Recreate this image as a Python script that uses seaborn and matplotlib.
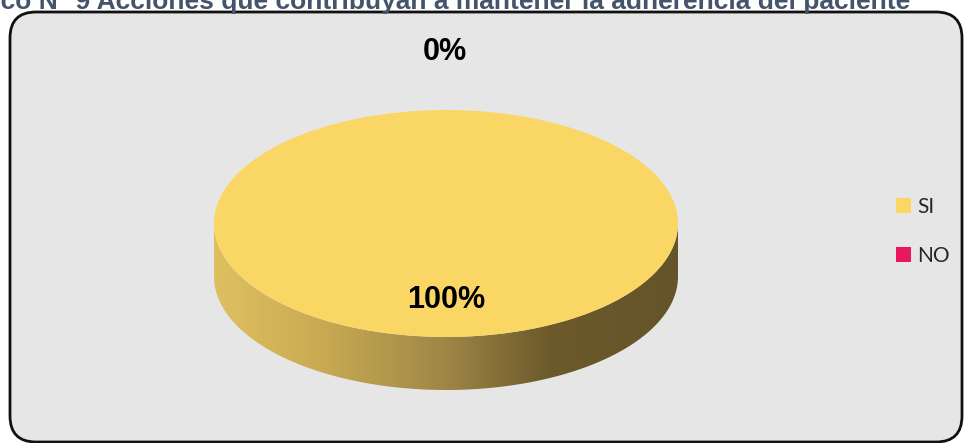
import numpy as np
import matplotlib
matplotlib.use("Agg")
import matplotlib.pyplot as plt
import seaborn as sns
from matplotlib.patches import FancyBboxPatch, Patch, Polygon
from matplotlib.colors import LinearSegmentedColormap

# Data
categories = ["SI", "NO"]
values = [100, 0]
slice_colors = ["#FAD765", "#E8185C"]
title = "Gráfico N° 9 Acciones que contribuyan a mantener la adherencia del paciente"

sns.set_theme(style="white")
plt.rcParams["font.family"] = ["Liberation Sans", "DejaVu Sans"]

W, H = 964, 443
fig = plt.figure(figsize=(W / 100, H / 100), dpi=100)
fig.patch.set_facecolor("white")

# Canvas axes in pixel units for the frame and title
bg = fig.add_axes([0, 0, 1, 1])
bg.set_xlim(0, W)
bg.set_ylim(H, 0)
bg.axis("off")
bg.add_patch(FancyBboxPatch((10, 12), 952, 430,
                            boxstyle="round,pad=0,rounding_size=26",
                            fc="#E6E6E6", ec="#111111", lw=2))
bg.text(910, 9, title, ha="right", va="baseline", fontsize=19,
        fontweight="bold", color="#44546A")

# Tilted pie: circle in data units stretched into an ellipse by the axes box
cx, cy, rx, ry, depth = 446, 223.5, 232, 113.5, 53
d = depth / ry
xlo, xhi = -1.05, 1.05
ylo, yhi = -1 - d - 0.05, 1.05
left_px = cx + xlo * rx
width_px = (xhi - xlo) * rx
top_px = cy - yhi * ry
bottom_px = cy - ylo * ry
ax = fig.add_axes([left_px / W, 1 - bottom_px / H, width_px / W, (bottom_px - top_px) / H])
ax.set_facecolor("none")

# Side wall of the disc with a left-to-right shading
t = np.linspace(np.pi, 2 * np.pi, 300)
upper = np.column_stack([np.cos(t), np.sin(t)])
lower = np.column_stack([np.cos(t[::-1]), np.sin(t[::-1]) - d])
side = Polygon(np.vstack([upper, lower]), closed=True, transform=ax.transData,
               fc="none", ec="none")
ax.add_patch(side)
side_cmap = LinearSegmentedColormap.from_list(
    "side", [(0.0, "#DFC060"), (0.25, "#C6A852"), (0.5, "#9E8645"),
             (0.72, "#6C5A2C"), (1.0, "#655429")])
grad = np.linspace(0, 1, 256)[None, :]
im = ax.imshow(grad, cmap=side_cmap, extent=[-1, 1, -1 - d, 0], aspect="auto",
               zorder=0, interpolation="bilinear")
im.set_clip_path(side)

ax.pie(values, colors=slice_colors, startangle=90, counterclock=False,
       wedgeprops=dict(linewidth=0), radius=1)
ax.set_aspect("auto")
ax.set_xlim(xlo, xhi)
ax.set_ylim(ylo, yhi)
ax.axis("off")

# Percentage labels, placed in pixel units on top of the pie
total = sum(values)
label_pos = [(446, 300), (445, 52)]
for v, (lx, ly) in zip(values, label_pos):
    ax.text(lx, ly, f"{v / total:.0%}", transform=bg.transData,
            ha="center", va="center", fontsize=22, fontweight="bold",
            color="black", zorder=5)

# Legend
handles = [Patch(fc=c, ec="none") for c in slice_colors]
fig.legend(handles, categories, loc="center left",
           bbox_to_anchor=(896 / W, 1 - 231.5 / H), frameon=False,
           prop=dict(family=["Lato", "DejaVu Sans"], size=15),
           handlelength=0.72, handleheight=0.72, handletextpad=0.3,
           labelspacing=1.38, borderpad=0, borderaxespad=0)

fig.savefig("out.png", dpi=100)
